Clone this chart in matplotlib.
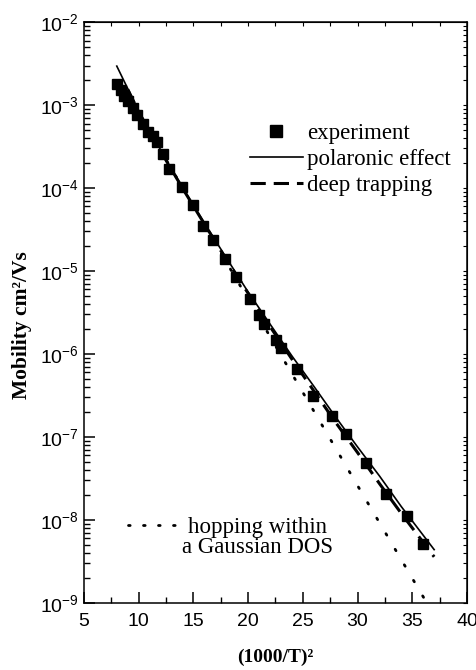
import math
import matplotlib
matplotlib.use("Agg")
import matplotlib.pyplot as plt
from matplotlib.ticker import FixedLocator, FuncFormatter, LogLocator, NullFormatter
from matplotlib.lines import Line2D

# fonts: Times-like for labels/legend, Arial-like for tick numbers
plt.rcParams['mathtext.fontset'] = 'custom'
plt.rcParams['mathtext.rm'] = 'Liberation Sans'
plt.rcParams['mathtext.it'] = 'Liberation Sans:italic'
plt.rcParams['mathtext.bf'] = 'Liberation Sans:bold'

## DATA _____________________________________________
# experiment, x = (1000/T)^2, mobility in cm^2/Vs
x_exp = [8.0, 8.4, 8.7, 9.0, 9.5, 9.85, 10.4, 10.85, 11.3, 11.7, 12.25, 12.8,
         14.0, 15.0, 15.9, 16.8, 17.9, 18.9, 20.2, 20.95, 21.45, 22.55, 23.05,
         24.5, 25.9, 27.65, 28.95, 30.8, 32.6, 34.5, 36.0]
mu_exp = [1.78e-3, 1.51e-3, 1.29e-3, 1.12e-3, 9.3e-4, 7.6e-4, 5.9e-4, 4.8e-4,
          4.2e-4, 3.6e-4, 2.6e-4, 1.7e-4, 1.02e-4, 6.2e-5, 3.5e-5, 2.4e-5,
          1.38e-5, 8.5e-6, 4.6e-6, 2.95e-6, 2.3e-6, 1.48e-6, 1.17e-6, 6.6e-7,
          3.1e-7, 1.78e-7, 1.1e-7, 4.8e-8, 2.04e-8, 1.12e-8, 5.2e-9]

# polaronic effect fit
x_polaron = [8.0, 9, 10, 11, 12, 13, 14, 16, 18, 20, 22, 24, 26, 28, 30, 32, 34, 37]
mu_polaron = [2.95e-3, 1.58e-3, 8.5e-4, 4.9e-4, 2.9e-4, 1.7e-4, 1.02e-4, 3.8e-5,
              1.45e-5, 5.6e-6, 2.3e-6, 9.5e-7, 4.1e-7, 1.74e-7, 7.6e-8, 3.4e-8,
              1.45e-8, 4.4e-9]

# deep trapping fit
x_trap = [9.0, 10, 12, 14, 16, 18, 20, 22, 24, 26, 28, 30, 32, 34, 37]
mu_trap = [1.55e-3, 8.3e-4, 2.8e-4, 1.0e-4, 3.7e-5, 1.38e-5, 5.4e-6, 2.15e-6,
           8.7e-7, 3.6e-7, 1.5e-7, 6.5e-8, 2.75e-8, 1.2e-8, 3.6e-9]

# hopping within a Gaussian DOS
x_gauss = [10.0, 14, 22, 30, 37]
mu_gauss = [7.9e-4, 1.02e-4, 1.63e-6, 2.6e-8, 7.1e-10]

x_ticks = [5, 10, 15, 20, 25, 30, 35, 40]
y_exponents = [-9, -8, -7, -6, -5, -4, -3, -2]

dotted = (0, (0.6, 5.9))
dashed = (0, (5, 2.6))

## PLOT _____________________________________________
fig = plt.figure(figsize=(4.77, 6.7), dpi=100)
ax = fig.add_axes([0.176, 0.100, 0.803, 0.867])

ax.plot(x_gauss, mu_gauss, color='black', lw=2.0, linestyle=dotted,
        dash_capstyle='round')
ax.plot(x_trap, mu_trap, color='black', lw=2.2, linestyle=dashed)
ax.plot(x_polaron, mu_polaron, color='black', lw=1.2)
ax.plot(x_exp, mu_exp, 's', color='black', markersize=7.5)

ax.set_yscale('log')
ax.set_xlim(5, 40)
ax.set_ylim(1e-9, 1e-2)

# ticks
ax.xaxis.set_major_locator(FixedLocator(x_ticks))
ax.xaxis.set_minor_locator(FixedLocator([t + 2.5 for t in x_ticks[:-1]]))
ax.yaxis.set_major_locator(FixedLocator([10.0 ** e for e in y_exponents]))
ax.yaxis.set_minor_locator(LogLocator(base=10, subs=range(2, 10), numticks=20))
ax.yaxis.set_minor_formatter(NullFormatter())
ax.yaxis.set_major_formatter(FuncFormatter(lambda v, p: r'$\mathregular{10^{%d}}$' % round(math.log10(v))))

ax.tick_params(which='major', direction='in', length=8, width=1.1,
               labelsize=14, top=False, right=False)
ax.tick_params(which='minor', direction='in', length=4.5, width=1.0,
               top=False, right=False)
for lab in ax.get_xticklabels() + ax.get_yticklabels():
    lab.set_family('Liberation Sans')
ax.tick_params(axis='x', pad=7)

# short ticks along top and right edges
ax_top = ax.secondary_xaxis('top')
ax_top.xaxis.set_major_locator(FixedLocator(x_ticks))
ax_top.xaxis.set_minor_locator(FixedLocator([t + 2.5 for t in x_ticks[:-1]]))
ax_top.tick_params(which='both', direction='in', length=3, width=0.8, labeltop=False)
ax_right = ax.secondary_yaxis('right')
ax_right.yaxis.set_major_locator(FixedLocator([10.0 ** e for e in y_exponents]))
ax_right.yaxis.set_minor_locator(LogLocator(base=10, subs=range(2, 10), numticks=20))
ax_right.tick_params(which='both', direction='in', length=3, width=0.8, labelright=False)
ax_right.yaxis.set_minor_formatter(NullFormatter())

for s in ax.spines.values():
    s.set_linewidth(1.1)

ax.set_xlabel('(1000/T)²', fontfamily='Liberation Serif', fontweight='bold',
              fontsize=14, labelpad=14)
ax.set_ylabel('Mobility cm²/Vs', fontfamily='Liberation Serif', fontweight='bold',
              fontsize=15.5)
ax.yaxis.set_label_coords(-0.136, 0.478)

# legends
handles = [
    Line2D([], [], marker='s', color='black', linestyle='none', markersize=9),
    Line2D([], [], color='black', lw=1.2),
    Line2D([], [], color='black', lw=2.2, linestyle=dashed),
]
labels = ['experiment', 'polaronic effect', 'deep trapping']
leg = ax.legend(handles, labels, loc='upper left', bbox_to_anchor=(0.433, 0.827),
                frameon=False, borderpad=0, borderaxespad=0, handlelength=2.3,
                handletextpad=0.2, labelspacing=0.22,
                prop={'family': 'Liberation Serif', 'size': 16.5})
ax.add_artist(leg)

g_handle = Line2D([], [], color='black', lw=2.0, linestyle=(0, (0.6, 4.8)),
                  dash_capstyle='round')
leg2 = ax.legend([g_handle], ['hopping within'], loc='upper left',
                 bbox_to_anchor=(0.115, 0.148), frameon=False, borderpad=0,
                 borderaxespad=0, handlelength=2.3, handletextpad=0.3,
                 prop={'family': 'Liberation Serif', 'size': 16.5})
# second line of the label, centred under the first (drawn after the legend)
ax.annotate('a Gaussian DOS', xy=(0.5, 0), xycoords=leg2.get_texts()[0],
            xytext=(0, 1), textcoords='offset points', ha='center', va='top',
            fontfamily='Liberation Serif', fontsize=16.5, zorder=10)

fig.savefig('out.png', dpi=100)
